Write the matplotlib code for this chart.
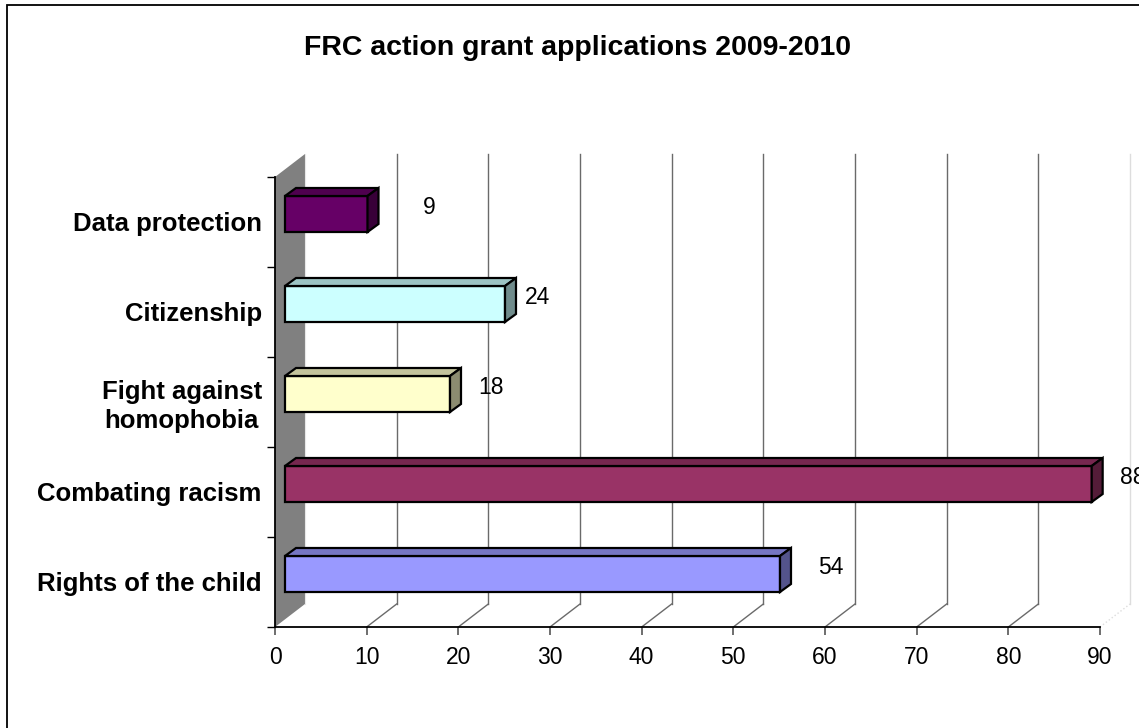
import numpy as np
import matplotlib
matplotlib.use("Agg")
import matplotlib.pyplot as plt
from matplotlib.patches import Polygon, Rectangle
from matplotlib.colors import to_rgb

plt.rcParams['font.family'] = ['Liberation Sans', 'DejaVu Sans']

# datos (de arriba hacia abajo, como en el grafico)
categorias = ['Data protection', 'Citizenship', 'Fight against\nhomophobia',
              'Combating racism', 'Rights of the child']
valores = [9, 24, 18, 88, 54]
colores = ['#660066', '#CCFFFF', '#FFFFCC', '#993366', '#9999FF']
titulo = 'FRC action grant applications 2009-2010'
xticks = list(range(0, 100, 10))

# separacion de las etiquetas de valor respecto al final de la barra (px)
sep_etiqueta = [55, 20, 28, 28, 38]

W, H = 1139, 728
fig = plt.figure(figsize=(W / 100, H / 100), dpi=100)
ax = fig.add_axes([275 / W, 1 - 627 / H, 825 / W, 450 / H])
n = len(categorias)
ax.set_xlim(0, 90)
ax.set_ylim(-0.5, n - 0.5)

pxx = 825 / 90.0   # px por unidad en x
pxy = 450 / n      # px por categoria
DX, DY = 30 / pxx, 23 / pxy        # profundidad de la pared
fx, fy = 10 / pxx, 8 / pxy         # desplazamiento de la cara frontal de la barra
bx, by = 11 / pxx, 8 / pxy         # profundidad de la barra
alto = 0.4

y0, y1 = -0.5, n - 0.5

# pared lateral gris
ax.add_patch(Polygon([(0, y0), (0, y1), (DX, y1 + DY), (DX, y0 + DY)],
                     closed=True, facecolor='#808080', edgecolor='none',
                     zorder=1, clip_on=False))
ax.plot([DX, DX], [y0 + DY, y1 + DY], color='#e8e8e8', lw=0.8, zorder=1.5, clip_on=False)

# lineas de la grilla (pared del fondo y piso)
for t in xticks[1:]:
    col = '#6a6a6a' if t < 90 else '#dddddd'
    ax.plot([t + DX, t + DX], [y0 + DY, y1 + DY], color=col, lw=1.0, zorder=1, clip_on=False)
    ax.plot([t, t + DX], [y0, y0 + DY], color=col, lw=1.0, zorder=1, clip_on=False,
            ls='-' if t < 90 else ':')

# barras 3D
ypos = np.arange(n)[::-1]
ax.barh(ypos + fy, valores, height=alto, left=fx, color=colores,
        edgecolor='black', linewidth=1.6, zorder=3)
for y, v, c in zip(ypos, valores, colores):
    rgb = np.array(to_rgb(c))
    arriba = y + fy + alto / 2
    abajo = y + fy - alto / 2
    ax.add_patch(Polygon([(fx, arriba), (fx + bx, arriba + by), (fx + v + bx, arriba + by),
                          (fx + v, arriba)], closed=True, facecolor=rgb * 0.77,
                         edgecolor='black', lw=1.6, zorder=3, clip_on=False))
    ax.add_patch(Polygon([(fx + v, abajo), (fx + v + bx, abajo + by), (fx + v + bx, arriba + by),
                          (fx + v, arriba)], closed=True, facecolor=rgb * 0.55,
                         edgecolor='black', lw=1.6, zorder=3, clip_on=False))

# etiquetas de valor
for y, v, s in zip(ypos, valores, sep_etiqueta):
    ax.annotate(str(v), xy=(fx + v, y), xytext=(s * 0.72, 15 * 0.72),
                textcoords='offset points', ha='left', va='center',
                fontsize=16.5, annotation_clip=False, zorder=4)

# ejes
for lado in ['top', 'right']:
    ax.spines[lado].set_visible(False)
ax.spines['left'].set_color('black')
ax.spines['bottom'].set_color('black')
ax.spines['left'].set_linewidth(1.3)
ax.spines['bottom'].set_linewidth(1.3)
ax.spines['left'].set_zorder(2)
ax.spines['bottom'].set_zorder(2)

ax.set_xticks(xticks)
ax.set_xticklabels([str(t) for t in xticks])
ax.tick_params(axis='x', direction='out', length=5.8, width=1.2, color='#555555',
               labelsize=16.5, pad=8)

ax.set_yticks(np.arange(-0.5, n, 1.0))
ax.set_yticklabels([''] * (n + 1))
ax.tick_params(axis='y', which='major', direction='out', length=5.8, width=1.0, color='black')
ax.set_yticks(ypos, labels=categorias, minor=True)
ax.tick_params(axis='y', which='minor', length=0, pad=9.5, labelsize=18.5)
for lbl in ax.get_yticklabels(minor=True):
    lbl.set_fontweight('bold')
    lbl.set_multialignment('center')
    lbl.set_linespacing(1.25)

ax.set_facecolor('none')

# titulo
fig.text(577 / W, 1 - 55 / H, titulo, ha='center', va='baseline',
         fontsize=20.5, fontweight='bold')

# borde del grafico
fig.patches.append(Rectangle((7 / W, -0.1), 2, (1 - 5 / H) + 0.1, transform=fig.transFigure,
                             fill=False, edgecolor='black', lw=1.3))

fig.savefig('out.png', dpi=100)
